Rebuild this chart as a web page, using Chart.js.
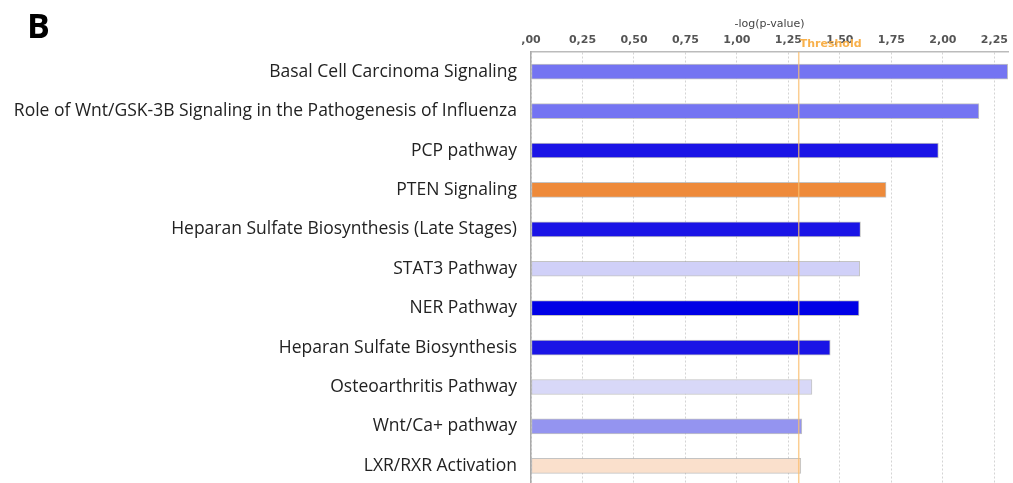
<!DOCTYPE html>
<html>
<head>
<meta charset="utf-8">
<script src="https://cdn.jsdelivr.net/npm/chart.js@4.4.1/dist/chart.umd.min.js"></script>
<style>
  html, body { margin: 0; padding: 0; background: #fff; overflow: hidden; }
  #wrap { position: relative; width: 1013px; height: 502px; }
  #panel { position: absolute; left: 27px; top: 2px; font: bold 34px "Open Sans", sans-serif; color: #000; }
</style>
</head>
<body>
<div id="wrap">
  <canvas id="canvas" width="1013" height="502"></canvas>
  <div id="panel">B</div>
</div>
<script>
var pathways = [
    "Basal Cell Carcinoma Signaling",
    "Role of Wnt/GSK-3B Signaling in the Pathogenesis of Influenza",
    "PCP pathway",
    "PTEN Signaling",
    "Heparan Sulfate Biosynthesis (Late Stages)",
    "STAT3 Pathway",
    "NER Pathway",
    "Heparan Sulfate Biosynthesis",
    "Osteoarthritis Pathway",
    "Wnt/Ca+ pathway",
    "LXR/RXR Activation"
];

var logP = [2.315, 2.175, 1.978, 1.724, 1.600, 1.596, 1.593, 1.453, 1.364, 1.315, 1.310];

var barColors = [
    "#7474f2", "#7474f2", "#1a14e6", "#ee8a3a", "#1a14e6", "#d0d0f8",
    "#0000e6", "#1a14e6", "#d8d8f8", "#9494f0", "#fae0cc"
];

var tickValues = [0, 0.25, 0.5, 0.75, 1, 1.25, 1.5, 1.75, 2, 2.25];
var threshold = 1.3;

function tickText(v) {
    if (v === 0) return ",00";
    return v.toFixed(2).replace(".", ",");
}

var thresholdPlugin = {
    id: "threshold",
    afterDatasetsDraw: function(chart) {
        var c = chart.ctx, x = chart.scales.x.getPixelForValue(threshold);
        var a = chart.chartArea;
        c.save();
        c.strokeStyle = "rgba(250,190,110,0.75)";
        c.lineWidth = 1.5;
        c.beginPath();
        c.moveTo(x, a.top);
        c.lineTo(x, a.bottom + 10);
        c.stroke();
        c.fillStyle = "#f8b04a";
        c.font = "bold 11px Verdana, 'DejaVu Sans', sans-serif";
        c.textBaseline = "middle";
        c.fillText("Threshold", x + 1, 44);
        c.restore();
    }
};

var ctx = document.getElementById("canvas").getContext("2d");
new Chart(ctx, {
    type: "bar",
    data: {
        labels: pathways,
        datasets: [{
            data: logP,
            backgroundColor: barColors,
            borderColor: "rgba(170,170,170,0.7)",
            borderWidth: 1,
            borderSkipped: false,
            barThickness: 15
        }]
    },
    options: {
        indexAxis: "y",
        responsive: false,
        animation: false,
        layout: { padding: { left: 0, right: 2, top: 0, bottom: 0 } },
        plugins: { legend: { display: false }, tooltip: { enabled: false } },
        scales: {
            x: {
                position: "top",
                min: 0,
                max: 2.317,
                afterBuildTicks: function(s) {
                    s.ticks = tickValues.map(function(v) { return { value: v }; });
                },
                afterFit: function(s) { s.height = 52; },
                grid: {
                    color: "#d4d4d4",
                    lineWidth: 1,
                    drawTicks: false
                },
                border: { display: true, color: "#bbbbbb", width: 1.5, dash: [2, 2] },
                ticks: {
                    padding: 5,
                    color: "#555",
                    maxRotation: 0,
                    font: { family: "Verdana, 'DejaVu Sans', sans-serif", size: 11, weight: "bold" },
                    callback: function(v) { return tickText(v); }
                },
                title: {
                    display: true,
                    text: "-log(p-value)",
                    color: "#444",
                    padding: { top: 18, bottom: 0 },
                    font: { family: "Verdana, 'DejaVu Sans', sans-serif", size: 11 }
                }
            },
            y: {
                afterFit: function(s) { s.width = 531; },
                grid: { display: false },
                border: { display: true, color: "#aaaaaa", width: 1.5 },
                ticks: {
                    padding: 6,
                    color: "#222",
                    autoSkip: false,
                    font: { family: "'Open Sans', sans-serif", size: 17.5 }
                }
            }
        }
    },
    plugins: [thresholdPlugin]
});
</script>
</body>
</html>
